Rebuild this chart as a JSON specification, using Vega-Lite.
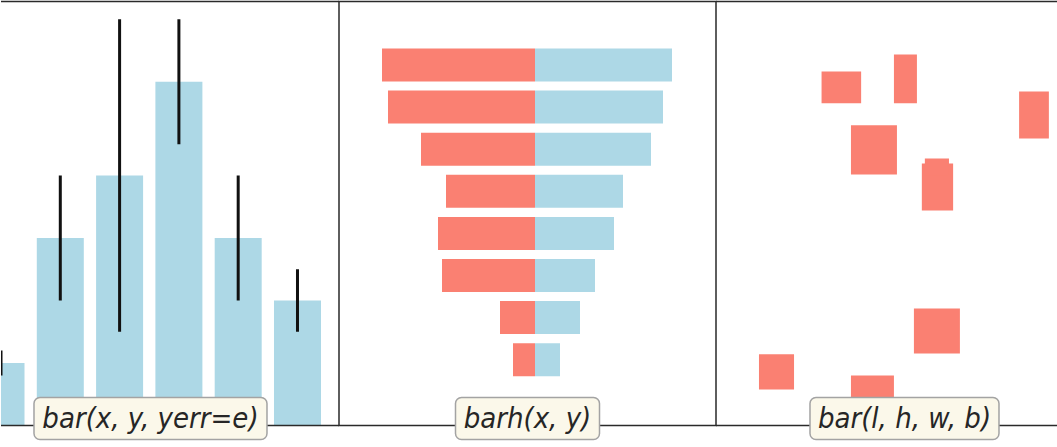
{
  "$schema": "https://vega.github.io/schema/vega-lite/v6.json",
  "background": "white",
  "padding": {"left": 0, "top": 0.5, "right": 0, "bottom": 0},
  "spacing": 0,
  "bounds": "flush",
  "config": {
    "view": {"stroke": null},
    "rule": {"color": "#2a2a2a", "strokeWidth": 1.5},
    "text": {"font": "DejaVu Sans Condensed, DejaVu Sans", "fontStyle": "italic", "fontSize": 29, "color": "#262626", "align": "center", "baseline": "middle"}
  },
  "resolve": {"scale": {"x": "independent", "y": "independent", "color": "independent"}},
  "hconcat": [
    {
      "width": 338,
      "height": 424,
      "layer": [
        {
          "data": {"values": [
            {"x": 1, "y": 1, "e": 0.2},
            {"x": 2, "y": 3, "e": 1},
            {"x": 3, "y": 4, "e": 2.5},
            {"x": 4, "y": 5.5, "e": 1},
            {"x": 5, "y": 3, "e": 1},
            {"x": 6, "y": 2, "e": 0.5}
          ]},
          "layer": [
            {
              "mark": {"type": "bar", "width": 47, "color": "#add8e6", "clip": true},
              "encoding": {
                "x": {"field": "x", "type": "quantitative", "scale": {"domain": [1, 6.7], "nice": false, "zero": false, "padding": 0}, "axis": null},
                "y": {"field": "y", "type": "quantitative", "scale": {"domain": [0, 6.784], "nice": false, "zero": false, "padding": 0}, "axis": null},
                "y2": {"datum": 0}
              }
            },
            {
              "mark": {"type": "errorbar", "thickness": 3, "color": "#111111", "clip": true},
              "encoding": {
                "x": {"field": "x", "type": "quantitative"},
                "y": {"field": "y", "type": "quantitative"},
                "yError": {"field": "e"}
              }
            }
          ]
        },
        {
          "data": {"values": [{"label": "bar(x, y, yerr=e)"}]},
          "layer": [
            {"mark": {"type": "rule"}, "encoding": {"y": {"datum": 6.784, "type": "quantitative"}}},
            {"mark": {"type": "rule"}, "encoding": {"y": {"datum": 0, "type": "quantitative"}}},
            {
              "mark": {"type": "bar", "width": 233, "fill": "#fbf8ea", "stroke": "#a3a3a3", "strokeWidth": 1.5, "cornerRadius": 6},
              "encoding": {"x": {"datum": 3.521, "type": "quantitative"}, "y": {"datum": 0.448, "type": "quantitative"}, "y2": {"datum": -0.224}}
            },
            {
              "mark": {"type": "text"},
              "encoding": {"x": {"datum": 3.521, "type": "quantitative"}, "y": {"datum": 0.112, "type": "quantitative"}, "text": {"field": "label"}}
            }
          ]
        }
      ]
    },
    {
      "width": 377,
      "height": 424,
      "view": {"stroke": "#2a2a2a", "strokeWidth": 1.5},
      "layer": [
        {
          "data": {"values": [
            {"row": 1, "side": "left", "v": -7.65},
            {"row": 2, "side": "left", "v": -7.35},
            {"row": 3, "side": "left", "v": -5.7},
            {"row": 4, "side": "left", "v": -4.45},
            {"row": 5, "side": "left", "v": -4.85},
            {"row": 6, "side": "left", "v": -4.65},
            {"row": 7, "side": "left", "v": -1.75},
            {"row": 8, "side": "left", "v": -1.1},
            {"row": 1, "side": "right", "v": 6.85},
            {"row": 2, "side": "right", "v": 6.4},
            {"row": 3, "side": "right", "v": 5.8},
            {"row": 4, "side": "right", "v": 4.4},
            {"row": 5, "side": "right", "v": 3.95},
            {"row": 6, "side": "right", "v": 3.0},
            {"row": 7, "side": "right", "v": 2.25},
            {"row": 8, "side": "right", "v": 1.25}
          ]},
          "mark": {"type": "bar", "height": 33, "clip": true},
          "encoding": {
            "x": {"field": "v", "type": "quantitative", "scale": {"domain": [-9.8, 9.05], "nice": false, "zero": false, "padding": 0}, "axis": null},
            "x2": {"datum": 0},
            "y": {"field": "row", "type": "quantitative", "scale": {"domain": [-0.508, 9.563], "reverse": true, "nice": false, "zero": false, "padding": 0}, "axis": null},
            "color": {"field": "side", "type": "nominal", "scale": {"domain": ["left", "right"], "range": ["#fa8072", "#add8e6"]}, "legend": null}
          }
        },
        {
          "data": {"values": [{"label": "barh(x, y)"}]},
          "layer": [
            {
              "mark": {"type": "bar", "width": 144, "fill": "#fbf8ea", "stroke": "#a3a3a3", "strokeWidth": 1.5, "cornerRadius": 6},
              "encoding": {"x": {"datum": -0.375, "type": "quantitative"}, "y": {"datum": 8.898, "type": "quantitative"}, "y2": {"datum": 9.895}}
            },
            {
              "mark": {"type": "text"},
              "encoding": {"x": {"datum": -0.375, "type": "quantitative"}, "y": {"datum": 9.397, "type": "quantitative"}, "text": {"field": "label"}}
            }
          ]
        }
      ]
    },
    {
      "width": 342,
      "height": 424,
      "layer": [
        {
          "data": {"values": [
            {"l": 2.8, "r": 3.85, "b": 7.6, "t": 8.35},
            {"l": 4.72, "r": 5.33, "b": 7.6, "t": 8.75},
            {"l": 8.04, "r": 8.83, "b": 6.77, "t": 7.88},
            {"l": 3.58, "r": 4.8, "b": 5.92, "t": 7.08},
            {"l": 5.46, "r": 6.29, "b": 5.07, "t": 6.18},
            {"l": 5.54, "r": 6.18, "b": 5.9, "t": 6.3},
            {"l": 5.25, "r": 6.47, "b": 1.7, "t": 2.76},
            {"l": 1.14, "r": 2.07, "b": 0.85, "t": 1.68},
            {"l": 3.58, "r": 4.72, "b": 0.6, "t": 1.18}
          ]},
          "mark": {"type": "rect", "color": "#fa8072", "clip": true},
          "encoding": {
            "x": {"field": "l", "type": "quantitative", "scale": {"domain": [0, 9.072], "nice": false, "zero": false, "padding": 0}, "axis": null},
            "x2": {"field": "r"},
            "y": {"field": "b", "type": "quantitative", "scale": {"domain": [0, 10], "nice": false, "zero": false, "padding": 0}, "axis": null},
            "y2": {"field": "t"}
          }
        },
        {
          "data": {"values": [{"label": "bar(l, h, w, b)"}]},
          "layer": [
            {"mark": {"type": "rule"}, "encoding": {"y": {"datum": 10, "type": "quantitative"}}},
            {"mark": {"type": "rule"}, "encoding": {"y": {"datum": 0, "type": "quantitative"}}},
            {
              "mark": {"type": "bar", "width": 189, "fill": "#fbf8ea", "stroke": "#a3a3a3", "strokeWidth": 1.5, "cornerRadius": 6},
              "encoding": {"x": {"datum": 5.0, "type": "quantitative"}, "y": {"datum": 0.66, "type": "quantitative"}, "y2": {"datum": -0.33}}
            },
            {
              "mark": {"type": "text"},
              "encoding": {"x": {"datum": 5.0, "type": "quantitative"}, "y": {"datum": 0.165, "type": "quantitative"}, "text": {"field": "label"}}
            }
          ]
        }
      ]
    }
  ]
}
